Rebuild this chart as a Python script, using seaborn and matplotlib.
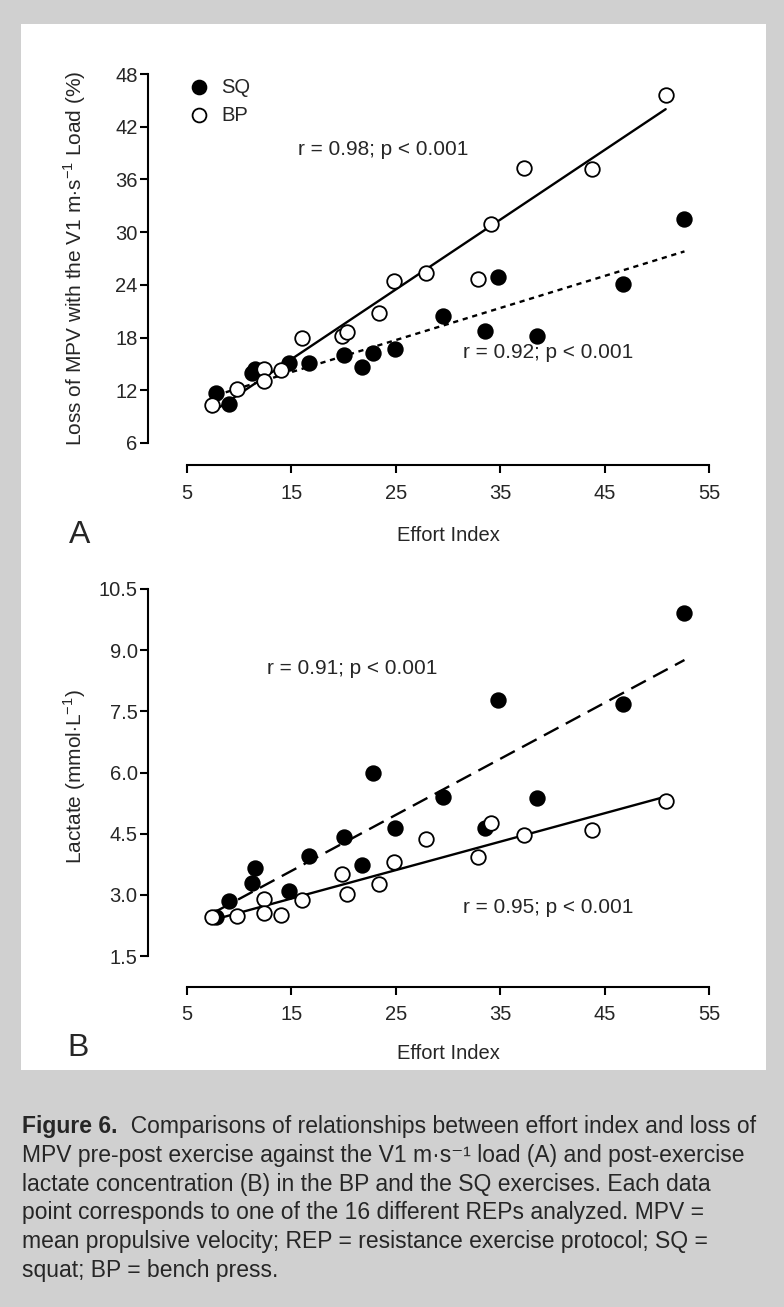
import matplotlib
matplotlib.use("Agg")
import matplotlib.pyplot as plt
from matplotlib.patches import Rectangle
import seaborn as sns

# effort index of the 16 REPs, per exercise
effort_sq = [7.8, 9.05, 11.2, 11.5, 14.8, 16.7, 20.05, 21.8, 22.8, 24.95,
             29.55, 33.55, 34.75, 38.5, 46.75, 52.65]
effort_bp = [7.4, 9.8, 12.35, 12.35, 14.0, 16.0, 19.8, 20.35, 23.4, 24.85,
             27.85, 32.9, 34.15, 37.25, 43.8, 50.85]

# panel A: loss of MPV against the V1 m/s load (%)
mpv_loss_sq = [11.7, 10.4, 14.0, 14.45, 15.1, 15.1, 16.0, 14.7, 16.25, 16.65,
               20.5, 18.7, 24.85, 18.2, 24.05, 31.5]
mpv_loss_bp = [10.3, 12.2, 14.4, 13.05, 14.35, 17.95, 18.2, 18.65, 20.8, 24.45,
               25.35, 24.65, 30.9, 37.35, 37.15, 45.65]

# panel B: post-exercise lactate (mmol/L)
lactate_sq = [2.45, 2.85, 3.3, 3.67, 3.1, 3.95, 4.42, 3.72, 6.0, 4.63,
              5.4, 4.65, 7.78, 5.37, 7.68, 9.9]
lactate_bp = [2.45, 2.49, 2.9, 2.55, 2.51, 2.88, 3.5, 3.02, 3.27, 3.8,
              4.38, 3.93, 4.77, 4.46, 4.59, 5.3]

x_ticks = [5, 15, 25, 35, 45, 55]
y_ticks_a = [6, 12, 18, 24, 30, 36, 42, 48]
y_ticks_b = [1.5, 3.0, 4.5, 6.0, 7.5, 9.0, 10.5]

stats_a = ["r = 0.98; p < 0.001", "r = 0.92; p < 0.001"]
stats_b = ["r = 0.91; p < 0.001", "r = 0.95; p < 0.001"]

caption = [
    "MPV pre-post exercise against the V1 m\u00b7s\u207b\u00b9 load (A) and post-exercise",
    "lactate concentration (B) in the BP and the SQ exercises. Each data",
    "point corresponds to one of the 16 different REPs analyzed. MPV =",
    "mean propulsive velocity; REP = resistance exercise protocol; SQ =",
    "squat; BP = bench press.",
]

sns.set_style("ticks")
plt.rcParams["font.family"] = ["Liberation Sans", "DejaVu Sans"]
plt.rcParams["mathtext.fontset"] = "custom"
plt.rcParams["mathtext.rm"] = "Liberation Sans"

W, H = 784, 1307
fig = plt.figure(figsize=(W / 100, H / 100), dpi=100)
fig.patch.set_facecolor("#d0d0d0")
fig.patches.append(Rectangle((21 / W, 1 - 1070 / H), 745 / W, 1046 / H,
                             transform=fig.transFigure, facecolor="white",
                             edgecolor="none", zorder=-5))

ax_a = fig.add_axes([187 / W, 1 - 443 / H, 522 / W, 369 / H])
ax_b = fig.add_axes([187 / W, 1 - 956 / H, 522 / W, 367 / H])


def draw_panel(ax, y_sq, y_bp, sq_ls):
    sns.regplot(x=effort_sq, y=y_sq, ax=ax, scatter=False, ci=None, truncate=True,
                color="black", line_kws=dict(lw=1.7, ls=sq_ls))
    sns.regplot(x=effort_bp, y=y_bp, ax=ax, scatter=False, ci=None, truncate=True,
                color="black", line_kws=dict(lw=1.7, ls="-"))
    sns.scatterplot(x=effort_sq, y=y_sq, ax=ax, color="black", edgecolor="black",
                    s=110, linewidth=1.3, label="SQ", zorder=3)
    sns.scatterplot(x=effort_bp, y=y_bp, ax=ax, color="white", edgecolor="black",
                    s=110, linewidth=1.3, label="BP", zorder=4)


draw_panel(ax_a, mpv_loss_sq, mpv_loss_bp, (0, (2.2, 2.0)))
draw_panel(ax_b, lactate_sq, lactate_bp, (0, (7, 3.5)))

for ax, yt, off in [(ax_a, y_ticks_a, 16), (ax_b, y_ticks_b, 22)]:
    ax.set_xlim(5, 55)
    ax.set_ylim(yt[0], yt[-1])
    ax.set_xticks(x_ticks)
    ax.set_yticks(yt)
    sns.despine(ax=ax)
    ax.spines["left"].set_position(("outward", 28))
    ax.spines["bottom"].set_position(("outward", off))
    for s in ("left", "bottom"):
        ax.spines[s].set_linewidth(1.5)
        ax.spines[s].set_color("black")
    ax.tick_params(axis="both", width=1.5, length=5.5, labelsize=14.5, color="black")
    ax.tick_params(axis="x", pad=8)
    ax.tick_params(axis="y", pad=2)
    ax.set_xlabel("Effort Index", fontsize=14.5)
    ax.set_facecolor("none")

ax_b.set_yticklabels([f"{v:.1f}" for v in y_ticks_b])

ax_a.set_ylabel(r"Loss of MPV with the V1 m$\cdot$s$^{\mathregular{-1}}$ Load (%)", fontsize=15)
ax_b.set_ylabel(r"Lactate (mmol$\cdot$L$^{\mathregular{-1}}$)", fontsize=15)
ax_a.yaxis.set_label_coords(-0.19, 0.5)
ax_b.yaxis.set_label_coords(-0.19, 0.49)
ax_a.xaxis.set_label_coords(0.5, -0.225)
ax_b.xaxis.set_label_coords(0.5, -0.24)

ax_a.legend(loc="upper left", bbox_to_anchor=(-0.016, 0.99), frameon=False, fontsize=14.5,
            borderpad=0, borderaxespad=0, handletextpad=0.1, labelspacing=0.45,
            markerscale=0.95)
ax_b.get_legend().remove()

ax_a.text(23.8, 39.35, stats_a[0], fontsize=15, ha="center", va="center")
ax_a.text(39.6, 16.25, stats_a[1], fontsize=15, ha="center", va="center")
ax_b.text(20.8, 8.54, stats_b[0], fontsize=15, ha="center", va="center")
ax_b.text(39.6, 2.68, stats_b[1], fontsize=15, ha="center", va="center")

fig.text(80 / W, 1 - 535 / H, "A", fontsize=23, ha="center", va="center")
fig.text(78 / W, 1 - 1048 / H, "B", fontsize=23, ha="center", va="center")

cap_size = 16.5
y0 = 1127
head = fig.text(22 / W, 1 - y0 / H, "Figure 6.", fontsize=cap_size, fontweight="bold",
                ha="left", va="center")
plt.annotate("  Comparisons of relationships between effort index and loss of",
             xy=(1, 0.5), xycoords=head, ha="left", va="center", fontsize=cap_size,
             annotation_clip=False)
for i, line in enumerate(caption):
    fig.text(22 / W, 1 - (y0 + 28.6 * (i + 1)) / H, line, fontsize=cap_size,
             ha="left", va="center")

fig.savefig("out.png", dpi=100, facecolor=fig.get_facecolor())
